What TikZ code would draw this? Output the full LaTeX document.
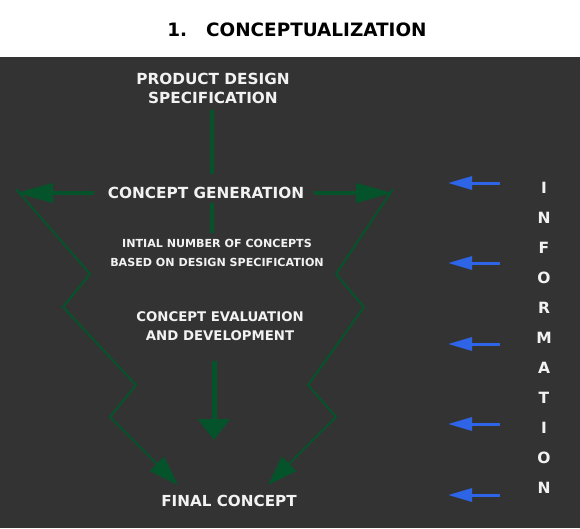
\documentclass[tikz,border=0pt]{standalone}
\usepackage{fontspec}
\setmainfont{DejaVu Sans}
\usetikzlibrary{arrows.meta,positioning}
\definecolor{board}{HTML}{333333}
\definecolor{flow}{HTML}{05532B}
\definecolor{feed}{HTML}{2E64E6}
\definecolor{inktext}{HTML}{F2F2F2}

\begin{document}
\begin{tikzpicture}[x=1pt,y=-1pt,
  txt/.style={font=\bfseries\fontsize{#1}{19}\selectfont,text=inktext,align=center,inner sep=0pt},
  stem/.style={flow,line width=4pt},
  side/.style={flow,line width=4pt,-{Triangle[length=37pt,width=19pt]}},
  zig/.style={flow,line width=2pt,line join=miter,-{Triangle[length=30pt,width=20pt]}},
  bigdown/.style={flow,line width=5pt,-{Triangle[length=21pt,width=31pt]}},
  feedarrow/.style={feed,line width=3pt,-{Triangle[length=24pt,width=13pt]}}]
  \useasboundingbox (0,0) rectangle (580,528);
  % Title band and board
  \fill[white] (0,0) rectangle (580,57);
  \fill[board] (0,57) rectangle (580,528);
  \node[font=\bfseries\fontsize{18.4}{20}\selectfont,inner sep=0pt] (title) at (297,30) {1.\hspace{19pt}CONCEPTUALIZATION};

  % Main column
  \node[txt=15.3] (pds) at (213,88.5) {PRODUCT DESIGN\\SPECIFICATION};
  \node[txt=15.3] (gen) at (206,193) {CONCEPT GENERATION};
  \node[txt=11.1] (init) at (217,252.5) {INTIAL NUMBER OF CONCEPTS\\BASED ON DESIGN SPECIFICATION};
  \node[txt=13.3] (eval) at (220,326.5) {CONCEPT EVALUATION\\AND DEVELOPMENT};
  \node[txt=15.2] (final) at (229,501) {FINAL CONCEPT};

  \coordinate (spine) at (212,0);
  \coordinate (lt) at (16,193);
  \coordinate (rt) at (393,193);
  \coordinate (fl) at (178,485);
  \coordinate (fr) at (268,485);
  \coordinate (dv) at (214,440);

  \draw[stem,shorten <=6pt,shorten >=13pt] (pds.south -| spine) -- (gen.north -| spine);
  \draw[stem,shorten <=4pt,shorten >=6pt] (gen.south -| spine) -- (init.north -| spine);
  \draw[side,shorten <=14pt] (gen.west) -- (gen.west -| lt);
  \draw[side,shorten <=10pt] (gen.east) -- (gen.east -| rt);

  % Zigzag feedback paths
  \draw[zig] ([yshift=4pt]lt) -- (90,274) -- (63,307) -- (136,385) -- (110,417) -- (fl);
  \draw[zig] ([yshift=4pt]rt) -- (336,274) -- (364,307) -- (308,385) -- (336,417) -- (fr);

  \draw[bigdown,shorten <=20pt] (eval.south -| dv) -- (dv);

  % Information column
  \node[font=\bfseries\fontsize{15.5}{30}\selectfont,text=inktext,align=center,inner sep=0pt] (info) at (544,338)
    {I\\N\\F\\O\\R\\M\\A\\T\\I\\O\\N};
  \foreach \y [count=\i] in {183,263,344,424,495}{
    \coordinate (in\i) at (500,\y);
    \draw[feedarrow] (in\i) -- ++(-52,0);
  }
\end{tikzpicture}
\end{document}
